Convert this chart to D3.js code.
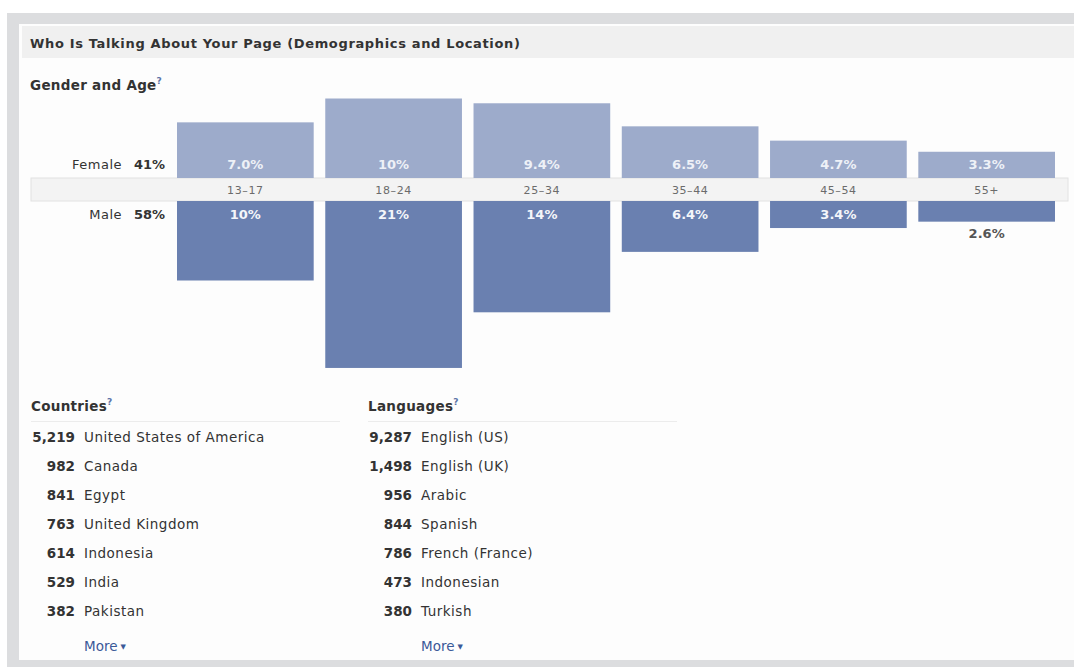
<!DOCTYPE html>
<html>
<head>
<meta charset="utf-8">
<script src="https://cdn.jsdelivr.net/npm/d3@7"></script>
<style>
  html, body { margin: 0; padding: 0; background: #ffffff; }
  svg { display: block; }
  text { font-family: "DejaVu Sans", "Noto Sans", sans-serif; }
</style>
</head>
<body>
<svg id="chart" width="1074" height="667"></svg>
<script>
// Gender and age breakdown (percent of people talking about the page)
const ageGroups = ["13-17", "18-24", "25-34", "35-44", "45-54", "55+"];
const femaleValues = [7.0, 10, 9.4, 6.5, 4.7, 3.3];
const maleValues = [10, 21, 14, 6.4, 3.4, 2.6];
const femaleLabels = ["7.0%", "10%", "9.4%", "6.5%", "4.7%", "3.3%"];
const maleLabels = ["10%", "21%", "14%", "6.4%", "3.4%", "2.6%"];
const genderTotals = [{ name: "Female", pct: "41%" }, { name: "Male", pct: "58%" }];

// Top countries and languages
const countryNames = ["United States of America", "Canada", "Egypt", "United Kingdom", "Indonesia", "India", "Pakistan"];
const countryCounts = [5219, 982, 841, 763, 614, 529, 382];
const languageNames = ["English (US)", "English (UK)", "Arabic", "Spanish", "French (France)", "Indonesian", "Turkish"];
const languageCounts = [9287, 1498, 956, 844, 786, 473, 380];

const svg = d3.select("#chart");
const W = 1074, H = 667;

const femaleColor = "#9dabcb";
const maleColor = "#6a80b0";
const textDark = "#333333";
const linkBlue = "#3b5998";

// Outer frame and panel
svg.append("rect").attr("x", 7).attr("y", 13).attr("width", W - 7).attr("height", H - 13).attr("fill", "#dcdddf");
svg.append("rect").attr("x", 19).attr("y", 24).attr("width", W - 19).attr("height", 636).attr("fill", "#fdfdfd");
svg.append("rect").attr("x", 22).attr("y", 26).attr("width", W - 22).attr("height", 32).attr("fill", "#f0f0f0");

svg.append("text").attr("x", 30).attr("y", 48)
  .attr("font-size", 13).attr("letter-spacing", 0.65).attr("font-weight", "bold").attr("fill", textDark)
  .text("Who Is Talking About Your Page (Demographics and Location)");

// Section heading with a small help mark
function heading(x, y, label) {
  const t = svg.append("text").attr("x", x).attr("y", y)
    .attr("font-size", 13.5).attr("letter-spacing", 0.3).attr("font-weight", "bold").attr("fill", textDark);
  t.append("tspan").text(label);
  t.append("tspan").attr("dy", -6).attr("font-size", 9).attr("fill", "#5b74a8").text("?");
}
heading(30, 90, "Gender and Age");

// Chart geometry
const bandTop = 178, bandBottom = 201;
const x = d3.scaleBand().domain(ageGroups).range([177, 1055]).paddingInner(0.078).paddingOuter(0);
const h = d3.scaleLinear().domain([0, 10]).range([0, 79.5]);

// Age band
svg.append("rect").attr("x", 31).attr("y", bandTop).attr("width", 1037).attr("height", bandBottom - bandTop)
  .attr("fill", "#f3f3f3").attr("stroke", "#e2e2e2").attr("stroke-width", 1);

// Female bars (above band)
svg.selectAll("rect.female").data(ageGroups).join("rect")
  .attr("class", "female")
  .attr("x", d => x(d)).attr("width", x.bandwidth())
  .attr("y", (d, i) => bandTop - h(femaleValues[i]))
  .attr("height", (d, i) => h(femaleValues[i]))
  .attr("fill", femaleColor);

// Male bars (below band)
svg.selectAll("rect.male").data(ageGroups).join("rect")
  .attr("class", "male")
  .attr("x", d => x(d)).attr("width", x.bandwidth())
  .attr("y", bandBottom)
  .attr("height", (d, i) => h(maleValues[i]))
  .attr("fill", maleColor);

// Age labels in the band
svg.selectAll("text.age").data(ageGroups).join("text")
  .attr("class", "age")
  .attr("x", d => x(d) + x.bandwidth() / 2).attr("y", 193.5)
  .attr("text-anchor", "middle").attr("font-size", 11).attr("letter-spacing", 0.6).attr("fill", "#6b6b6b")
  .text(d => d.replace("-", "\u2013"));

// Female value labels
svg.selectAll("text.fval").data(ageGroups).join("text")
  .attr("class", "fval")
  .attr("x", d => x(d) + x.bandwidth() / 2).attr("y", 169)
  .attr("text-anchor", "middle").attr("font-size", 13).attr("font-weight", "bold").attr("fill", "#eef1f7")
  .text((d, i) => femaleLabels[i]);

// Male value labels: inside the bar, or below it when the bar is short
svg.selectAll("text.mval").data(ageGroups).join("text")
  .attr("class", "mval")
  .attr("x", d => x(d) + x.bandwidth() / 2)
  .attr("y", (d, i) => h(maleValues[i]) < 24 ? bandBottom + h(maleValues[i]) + 16 : 219)
  .attr("text-anchor", "middle").attr("font-size", 13).attr("font-weight", "bold")
  .attr("fill", (d, i) => h(maleValues[i]) < 24 ? "#555555" : "#f4f6fa")
  .text((d, i) => maleLabels[i]);

// Gender totals on the left
genderTotals.forEach((g, i) => {
  const y = i === 0 ? 169 : 219;
  svg.append("text").attr("x", 122).attr("y", y).attr("text-anchor", "end")
    .attr("font-size", 13).attr("letter-spacing", 0.5).attr("fill", textDark).text(g.name);
  svg.append("text").attr("x", 165).attr("y", y).attr("text-anchor", "end")
    .attr("font-size", 13).attr("font-weight", "bold").attr("fill", textDark).text(g.pct);
});

// Ranked lists
const fmt = d3.format(",");
function rankedList(x0, numRight, title, names, counts) {
  heading(x0, 411, title);
  svg.append("line").attr("x1", x0).attr("x2", x0 + 309).attr("y1", 421.5).attr("y2", 421.5)
    .attr("stroke", "#ececec").attr("stroke-width", 1);
  const rowY = d3.scalePoint().domain(d3.range(names.length)).range([442, 616]);
  names.forEach((n, i) => {
    svg.append("text").attr("x", numRight).attr("y", rowY(i)).attr("text-anchor", "end")
      .attr("font-size", 13.5).attr("font-weight", "bold").attr("fill", textDark).text(fmt(counts[i]));
    svg.append("text").attr("x", numRight + 9).attr("y", rowY(i))
      .attr("font-size", 13.5).attr("letter-spacing", 0.5).attr("fill", textDark).text(n);
  });
  const more = svg.append("text").attr("x", numRight + 9).attr("y", 651)
    .attr("font-size", 13.5).attr("fill", linkBlue);
  more.append("tspan").text("More");
  more.append("tspan").attr("dx", 3).attr("font-size", 7).attr("dy", -2).text("\u25BC");
}
rankedList(31, 75, "Countries", countryNames, countryCounts);
rankedList(368, 412, "Languages", languageNames, languageCounts);
</script>
</body>
</html>
